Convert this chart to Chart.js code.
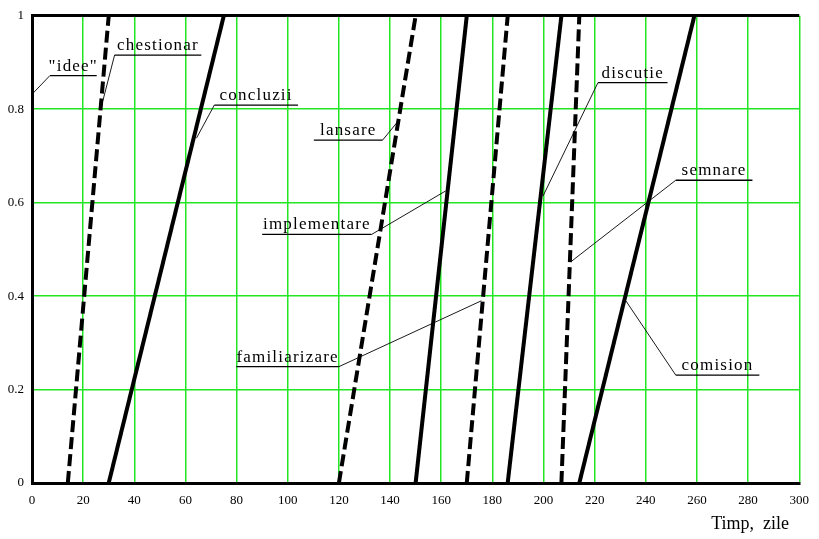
<!DOCTYPE html>
<html>
<head>
<meta charset="utf-8">
<script src="https://cdn.jsdelivr.net/npm/chart.js@4/dist/chart.umd.min.js"></script>
<style>
  html, body { margin: 0; padding: 0; background: #ffffff; }
  #wrap { width: 819px; height: 539px; position: relative; }
</style>
</head>
<body>
<div id="wrap"><canvas id="c"></canvas></div>
<script>
// ---- data ----
const xTicks = [0, 20, 40, 60, 80, 100, 120, 140, 160, 180, 200, 220, 240, 260, 280, 300];
const yTicks = [0, 0.2, 0.4, 0.6, 0.8, 1];
// each activity rises linearly from 0 (start day) to 1 (end day)
const startDays = [14, 30, 120, 150, 170, 186, 207, 214];
const endDays   = [30, 75, 150, 170, 186, 207, 214, 259];
const dashed    = [true, false, true, false, true, false, true, false];

// annotation labels (data units): text, underline from x1 to x2 at y, leader to (tx, ty) from side
const labelTexts = ['"idee"', 'chestionar', 'concluzii', 'lansare', 'implementare', 'familiarizare', 'discutie', 'semnare', 'comision'];
const labelX1    = [7.0, 32.3, 71.3, 110.2, 90.0, 79.9, 221.3, 251.7, 251.7];
const labelX2    = [25.3, 66.2, 104.0, 137.1, 132.8, 120.0, 248.5, 281.7, 284.4];
const labelY     = [0.872, 0.916, 0.809, 0.734, 0.532, 0.249, 0.857, 0.648, 0.231];
const leaderX    = [0, 27.7, 64.3, 143.4, 161.7, 175.7, 199.8, 210.8, 232.2];
const leaderY    = [0.832, 0.818, 0.738, 0.776, 0.625, 0.390, 0.614, 0.474, 0.390];
const leaderFrom = ['left', 'left', 'left', 'right', 'right', 'right', 'left', 'left', 'left'];
const xTitle = 'Timp,  zile';

const datasets = startDays.map((s, i) => ({
  data: [{x: s, y: 0}, {x: endDays[i], y: 1}],
  showLine: true,
  borderColor: '#000000',
  borderWidth: 4,
  borderDash: dashed[i] ? [12, 5] : [],
  borderCapStyle: 'butt',
  pointRadius: 0,
  fill: false,
  tension: 0
}));

const GREEN = '#22e622';
const SERIF = '"Liberation Serif", "Times New Roman", serif';

const annotations = {
  id: 'annotations',
  afterDatasetsDraw(chart) {
    const ctx = chart.ctx;
    const xs = chart.scales.x, ys = chart.scales.y;
    ctx.save();
    for (let i = 0; i < labelTexts.length; i++) {
      const x1 = xs.getPixelForValue(labelX1[i]);
      const x2 = xs.getPixelForValue(labelX2[i]);
      const y = ys.getPixelForValue(labelY[i]);
      const tx = xs.getPixelForValue(leaderX[i]);
      const ty = ys.getPixelForValue(leaderY[i]);
      // underline
      ctx.strokeStyle = '#000';
      ctx.lineWidth = 1.3;
      ctx.beginPath();
      ctx.moveTo(x1, y); ctx.lineTo(x2, y);
      ctx.stroke();
      // leader
      ctx.lineWidth = 0.9;
      ctx.beginPath();
      const sx = leaderFrom[i] === 'left' ? x1 : x2;
      ctx.moveTo(sx, y); ctx.lineTo(tx, ty);
      ctx.stroke();
      // text
      ctx.fillStyle = '#000';
      ctx.font = '17px ' + SERIF;
      try { ctx.letterSpacing = '1.2px'; } catch (e) {}
      ctx.textAlign = 'center';
      ctx.textBaseline = 'alphabetic';
      ctx.fillText(labelTexts[i], (x1 + x2) / 2, y - 5);
    }
    // axis title
    try { ctx.letterSpacing = '0px'; } catch (e) {}
    ctx.font = '18px ' + SERIF;
    ctx.textAlign = 'right';
    ctx.textBaseline = 'middle';
    ctx.fillText(xTitle, 789, 524);
    ctx.restore();
  }
};

new Chart(document.getElementById('c'), {
  type: 'scatter',
  data: { datasets },
  options: {
    responsive: true,
    maintainAspectRatio: false,
    animation: false,
    layout: { padding: { top: 6, right: 16, left: 0, bottom: 0 } },
    plugins: { legend: { display: false }, tooltip: { enabled: false } },
    scales: {
      x: {
        type: 'linear', min: 0, max: 300,
        afterBuildTicks: s => { s.ticks = xTicks.map(v => ({value: v})); },
        afterFit: s => { s.height = 56; },
        ticks: { color: '#000', font: { family: SERIF, size: 13 }, padding: 10, maxRotation: 0, autoSkip: false },
        grid: { color: GREEN, lineWidth: 1.5, drawTicks: false },
        border: { color: '#000', width: 3 }
      },
      y: {
        type: 'linear', min: 0, max: 1,
        afterBuildTicks: s => { s.ticks = yTicks.map(v => ({value: v})); },
        afterFit: s => { s.width = 32; },
        ticks: { color: '#000', font: { family: SERIF, size: 13 }, padding: 8, callback: v => String(v) },
        grid: {
          color: c => (c.tick && c.tick.value === 1) ? '#000' : GREEN,
          lineWidth: c => (c.tick && c.tick.value === 1) ? 3 : 1.5,
          drawTicks: false
        },
        border: { color: '#000', width: 3 }
      }
    }
  },
  plugins: [annotations]
});
</script>
</body>
</html>
